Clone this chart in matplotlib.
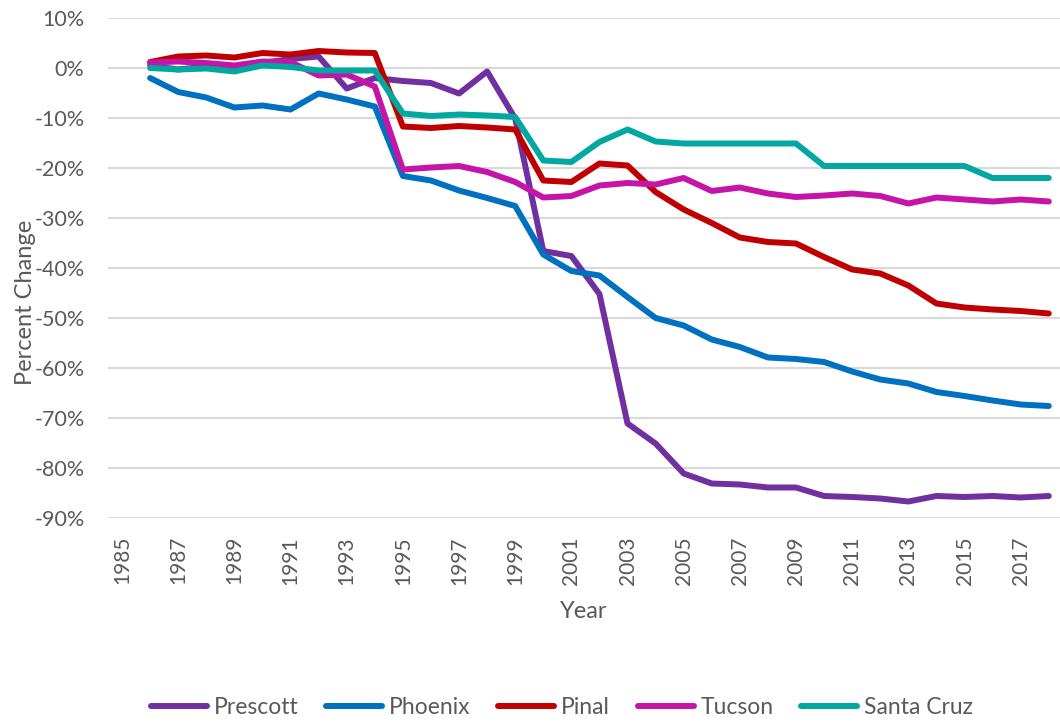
import matplotlib.pyplot as plt
import numpy as np

years = np.arange(1986, 2019)

prescott = [0.5, -0.3, 0.3, 0.2, 1.0, 1.8, 2.3, -4.1, -2.0, -2.6, -3.0, -5.1, -0.7, -10.1,
            -36.6, -37.6, -45.2, -71.1, -75.1, -81.1, -83.1, -83.3, -83.9, -83.9, -85.6,
            -85.8, -86.1, -86.7, -85.6, -85.8, -85.6, -85.9, -85.6]
phoenix = [-2.0, -4.8, -5.9, -7.9, -7.5, -8.3, -5.1, -6.3, -7.7, -21.6, -22.5, -24.5, -26.0,
           -27.6, -37.3, -40.6, -41.5, -45.8, -50.0, -51.5, -54.3, -55.8, -57.9, -58.2, -58.8,
           -60.7, -62.3, -63.1, -64.8, -65.6, -66.5, -67.3, -67.6]
pinal = [1.2, 2.3, 2.5, 2.1, 3.0, 2.7, 3.4, 3.1, 3.0, -11.7, -12.0, -11.6, -11.9, -12.3,
         -22.5, -22.8, -19.1, -19.5, -24.8, -28.3, -31.0, -33.9, -34.8, -35.1, -37.8, -40.3,
         -41.1, -43.5, -47.1, -47.9, -48.3, -48.6, -49.1]
tucson = [1.1, 1.3, 1.0, 0.5, 1.3, 1.2, -1.5, -1.3, -3.7, -20.3, -19.9, -19.6, -20.8, -22.8,
          -25.9, -25.6, -23.5, -23.0, -23.3, -22.0, -24.6, -23.9, -25.1, -25.8, -25.5, -25.1,
          -25.6, -27.1, -25.9, -26.3, -26.7, -26.3, -26.7]
santa_cruz = [0.0, -0.3, -0.1, -0.7, 0.5, 0.2, -0.5, -0.5, -0.5, -9.1, -9.6, -9.3, -9.5,
              -9.8, -18.5, -18.8, -14.8, -12.3, -14.7, -15.1, -15.1, -15.1, -15.1, -15.1,
              -19.6, -19.6, -19.6, -19.6, -19.6, -19.6, -22.0, -22.0, -22.0]

series = [("Prescott", prescott, "#7030A0"),
          ("Phoenix", phoenix, "#0070C0"),
          ("Pinal", pinal, "#C00000"),
          ("Tucson", tucson, "#C514A8"),
          ("Santa Cruz", santa_cruz, "#00A8A0")]

plt.rcParams['font.family'] = ['Lato', 'DejaVu Sans']
grey = "#595959"

fig = plt.figure(figsize=(10.6, 7.23), dpi=100)
ax = fig.add_axes([108 / 1060, 1 - 518 / 723, 952 / 1060, 500 / 723])

for name, vals, color in series:
    ax.plot(years, vals, color=color, lw=4.3, label=name, solid_capstyle="round",
            solid_joinstyle="round")

ax.set_ylim(-90, 10)
ax.set_xlim(1984.5, 2018.4)
ax.set_yticks(np.arange(-90, 11, 10))
ax.set_yticklabels([f"{v}%" for v in range(-90, 11, 10)])
ax.set_xticks(np.arange(1985, 2018, 2))
ax.tick_params(axis="x", rotation=90, length=0, pad=13, labelsize=15, labelcolor=grey)
ax.tick_params(axis="y", length=0, pad=17, labelsize=15.5, labelcolor=grey)
ax.grid(axis="y", color="#D9D9D9", lw=1.5)
ax.set_axisbelow(True)
for s in ax.spines.values():
    s.set_visible(False)

ax.set_xlabel("Year", fontsize=17, color=grey, labelpad=12)
ax.set_ylabel("Percent Change", fontsize=17, color=grey)
ax.yaxis.set_label_coords(-0.0756, 0.432)

fig.legend(loc="center", ncol=5, frameon=False, fontsize=16.5, labelcolor=grey,
           handlelength=2.45, columnspacing=1.2, handletextpad=0.3,
           bbox_to_anchor=(562 / 1060, 1 - 708 / 723))

fig.savefig("out.png", dpi=100)
